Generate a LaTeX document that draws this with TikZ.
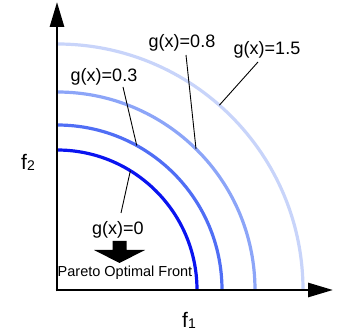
\documentclass[tikz,border=0pt]{standalone}
\usepackage{fontspec}
\setmainfont{Liberation Sans}
\usetikzlibrary{arrows.meta,calc}
\definecolor{cA}{RGB}{10,20,240}
\definecolor{cB}{RGB}{80,110,245}
\definecolor{cC}{RGB}{140,165,248}
\definecolor{cD}{RGB}{200,212,250}
\tikzset{
  axis/.style={line width=2.8pt,-{Triangle[length=25pt,width=14pt]}},
  front/.style={line width=3.2pt},
  leader/.style={line width=0.9pt,black},
  glabel/.style={inner sep=0pt,font=\fontsize{18}{18}\selectfont},
  flabel/.style={inner sep=0pt,font=\fontsize{21}{21}\selectfont},
}
\begin{document}
\begin{tikzpicture}[x=1pt,y=1pt]
\useasboundingbox (0,0) rectangle (342,336);
\coordinate (O) at (57,46);
\coordinate (ytip) at (57,334);
\coordinate (xtip) at (333,46);
% arcs
\draw[front,cD] ($(O)+(246,0)$) arc[start angle=0,end angle=90,radius=246];
\draw[front,cC] ($(O)+(198,0)$) arc[start angle=0,end angle=90,radius=198];
\draw[front,cB] ($(O)+(165,0)$) arc[start angle=0,end angle=90,radius=165];
\draw[front,cA] ($(O)+(140,0)$) arc[start angle=0,end angle=90,radius=140];
% axes
\draw[axis] ($(O)+(0,-1.4)$) -- (ytip);
\draw[axis] ($(O)+(-1.4,0)$) -- (xtip);
% labels
\node[glabel] (l15) at (267,286) {g(x)=1.5};
\node[glabel] (l08) at (182,293) {g(x)=0.8};
\node[glabel] (l03) at (104,259) {g(x)=0.3};
\node[glabel] (l0) at (118,106) {g(x)=0};
\node[inner sep=0pt,font=\fontsize{14.5}{15}\selectfont] (pof) at (125,63) {Pareto Optimal Front};
\node[flabel] (f1) at (189,16) {f\raisebox{-1pt}{\fontsize{14}{14}\selectfont 1}};
\node[flabel] (f2) at (28,174) {f\raisebox{-1pt}{\fontsize{14}{14}\selectfont 2}};
% leader coordinates
\coordinate (s15) at (258,274);
\coordinate (e15) at ($(O)+(48.7:246)$);
\coordinate (s08) at (186,281);
\coordinate (e08) at ($(O)+(45.4:198)$);
\coordinate (s03) at (123,249);
\coordinate (e03) at ($(O)+(61.1:165)$);
\coordinate (s0) at (121,123);
\coordinate (e0) at ($(O)+(58.4:140)$);
\draw[leader] (s15) -- (e15);
\draw[leader] (s08) -- (e08);
\draw[leader] (s03) -- (e03);
\draw[leader] (s0) -- (e0);
% block arrow
\fill[black] (112.5,95) -- (126.5,95) -- (126.5,86) -- (145,86) -- (119.5,73) -- (94,86) -- (112.5,86) -- cycle;
\end{tikzpicture}
\end{document}
